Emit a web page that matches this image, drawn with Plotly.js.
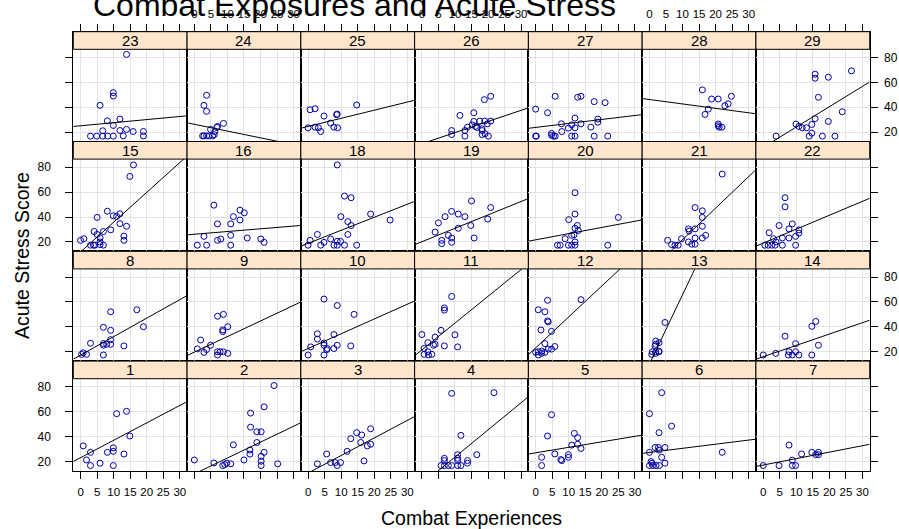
<!DOCTYPE html>
<html><head><meta charset="utf-8">
<script src="https://cdn.plot.ly/plotly-3.0.1.min.js"></script>
<style>html,body{margin:0;padding:0;background:#fff}#chart{width:899px;height:529px}</style>
</head><body><div id="chart"></div>
<script>
const panelLabels = ['1','2','3','4','5','6','7','8','9','10','11','12','13','14','15','16','18','19','20','21','22','23','24','25','26','27','28','29'];

const combatX = [
  [13.9,10.9,14.9,0.8,3,1.8,3,5.9,8.1,9.9,9.9,13.1,9.9],
  [24.1,21.1,17,17,18.9,20.2,11.8,18.9,16.8,16.8,21.1,15,20.2,20.2,20.2,25.2,0,5.9,8.6,9.2,9.8,11],
  [18.9,14.7,16.2,12.9,15.9,18.9,17.9,11.8,5.6,2.8,6.8,8.2,9.8,8.8,16.9],
  [9,11.8,16.6,6.8,6.8,10.8,10.8,10.8,13.8,13.8,5.8,6.8,8,9,10.8,11.8,21.8],
  [4.8,3.6,11.7,12.7,10.9,12.7,13.7,5.8,9.9,9.9,7.6,7.9,1.8,1.8],
  [3.7,0,6.7,2.9,1.7,2.7,4.7,2.9,0,3.7,0.5,0.8,0,1,2,3,4.7,22],
  [0,4.8,7.8,8.8,8.8,9.8,11.6,14.7,15.9,16.7,16.7],
  [9.1,17,19,6.9,9.1,3,6.9,6.9,7.9,9.1,9.1,13.1,0.8,1.8,0.3,6.9],
  [7,8.8,8.6,10.1,8.6,1.9,4.9,0.9,3.7,2.9,7,7.8,8.8,7,10.1],
  [4.8,8.8,13.9,2.8,2.8,7.8,4.8,4.8,0.8,5.8,5.6,8.8,7.8,12.9,0,4.8],
  [9,6.8,6.8,5.8,0,10,4,1.8,4,3.5,6.8,10.8,0.7,1.8,0.7,3,2],
  [3.6,13.7,0.8,2.8,3.6,3.8,1.6,4.8,2.8,5.8,4.8,3.8,0,0.8,1.8,2.8,0.8,1.8],
  [4.7,1.9,1.9,1.7,2.9,1.9,2.9,0.9,0.7,1.9,2.9],
  [15.9,14.7,6.6,9.8,16.7,0,3.8,7.8,7.6,8.8,9.8,10.8,14.7],
  [16,14.9,8.1,5,9.9,10.9,11.9,11.9,13.9,9.1,6.9,4.1,5,5.9,5.9,5.9,0,1,3,3.9,4.3,6.9,13.1,13.1],
  [5.9,7,11,11.8,13.8,15.1,13.8,2.9,7,8,11,0.9,3.7,11,16,20.1,21.1],
  [8.8,11,13,9.9,18.9,24.8,12,13,12,2.8,0.6,0,3.8,4.8,6.8,7.8,8.8,9.8,8.8,11,14.7],
  [4,5,7,9,11,13,15,14.8,11,8,9,9,6,6,15.8,20.8,19.9],
  [11.9,11.9,10,12.6,11.9,12.9,10.9,11.6,8.9,11.9,11.9,10.9,9.9,7.4,6.6,25,21.8],
  [22,13.8,16,16,11.8,12,13.8,16,17,16,13.8,11.8,12.8,13.8,9.7,5.5,6.7,7.7,8.7],
  [6.6,6.6,4.8,8.8,7.8,10.8,10.8,9.8,7.8,5.8,1.8,3.1,0.5,1.5,2.6,3.6,3.9,5.8,9.8],
  [13.9,9.9,9.9,5.9,8.1,11.9,9.9,6.7,11.9,13.9,15.9,19,19,12.9,3,4.9,6.7,8.2,9.9],
  [3.7,2.9,3.7,8.8,6.8,7,4.9,6.2,2.5,2.9,3.7,4.5,5.5,6],
  [0.6,2.1,4.8,14.7,8.6,8.8,6.8,7.8,8.9,0,2.1,3.1,3.8],
  [18.9,20.8,15.7,15.7,17.5,19,20.8,15.2,16.2,16.7,18.2,18.2,19.1,18.2,20.1,19.8,9,9,11.5,13,13,13.8],
  [0,0,0.2,3.6,5.9,4.8,4.8,5.9,5.4,7.9,7.8,9.9,10.9,11.9,11.9,10.9,11.9,12.7,13.7,13.7,17.7,21,18.8,18.8,16.7,17.7,21.8],
  [16,18.8,20.8,24.8,23.8,22.8,17.8,16.8,20.8,20.8,21.1,21.9],
  [3.9,9.9,10.8,11.8,13.1,14.7,15.7,14.7,13.9,15.7,15.7,16.7,19.7,19.7,17.9,21.7,23.9,26.7]
];

const stressY = [
  [60.3,58.4,40.5,32.6,27.4,21.3,16.8,18.7,27.4,28.2,31,26.1,16.8],
  [81,63.9,58.9,47.6,43.9,43.9,33.4,35.3,29.2,26,27.4,21.3,24.2,20.3,16.8,18.2,21.3,18.9,16.8,17.6,18.7,18.2],
  [46.3,43.2,41.3,38.4,35.3,33.9,32.6,28.2,26.1,18.2,19.2,19.2,19.2,16.8,20.5],
  [74.7,41,25.5,22.6,20.8,25.5,22.6,20.8,20.8,18.7,16.8,16.8,16.8,16.8,16.8,16.8,75.3],
  [57.6,40.5,42.6,39.2,33.2,33.9,30.5,26.1,25.5,23.4,21.6,20.8,23.4,16.8],
  [75.3,58.4,48.4,43.2,31.3,31.3,31.3,29.2,27.4,23.4,20,18.7,16.8,16.8,16.8,16.8,18.7,27.4],
  [16.8,16.8,33.2,21.1,16.8,16.8,26.1,27.4,25.5,27.4,25.5],
  [52.1,53.7,40.1,39.6,37.2,26.8,26.5,25.2,26,26,29.7,24.7,19.2,17.9,17.9,17.4],
  [48.5,50,37.5,40.1,36.2,29.4,25.2,22.3,21.8,19.5,20,20,20,17.4,18.7],
  [62.3,57.1,50,34.4,30.2,33.8,27,25.2,23.9,22.6,21.6,25.2,22.6,24.7,17.4,17.4],
  [64.4,55.2,53.4,37.2,33.8,33.6,31.7,27.3,26,25.2,24.7,23.9,22.6,20,17.9,17.9,17.4],
  [61.3,61.8,53.7,52.1,44.8,44,37.5,36.4,26.5,24.2,22.1,22.1,19.5,20,20.5,19.5,17.4,18.7],
  [43.5,28.6,26,24.7,27.3,20,20,20,17.9,18.7,20.5],
  [44.3,40.4,32.5,26.5,25.2,17.4,18.7,20,17.4,17.4,20,17.4,17.4],
  [81.8,72.6,44.7,39.7,41,40.5,42.6,34.7,32.6,29.7,28.4,28.4,26,23.4,20,17.9,21.3,22.6,17.4,17.4,17.4,17.4,24.7,21.3],
  [49.5,34.5,34.5,40.3,45.5,43.4,37.6,24.5,21.3,22.4,25.3,17.4,17.4,17.4,23.2,22.4,19.7],
  [81.8,56.8,55.5,40.3,42.4,37.6,36.3,33.2,26,26,21.3,17.4,17.4,19.7,22.4,17.4,20.5,20.5,17.4,17.4,17.4],
  [27.9,35.3,40.3,44.5,42.4,40.3,52.9,33.2,31,25.3,23.2,19.7,21.3,18.7,23.2,47.6,38.4],
  [59.5,42.4,37.9,33.2,31,29.2,25.3,25.8,22.6,20,17.4,17.4,17.4,17.4,17.4,39.7,17.4],
  [74.5,47.6,45,39.7,30.5,28.7,30.5,32.6,25.3,23.2,23.2,20,18.2,18.2,22.6,21.3,17.9,17.4,17.4],
  [55.5,48.2,33.2,34.5,30.5,29.7,27.1,24.5,23.2,23.2,27.4,22.6,17.4,17.4,17.4,17.4,20,17.4,17.4],
  [82.4,51.7,49,41.5,29.1,30.5,25.4,21.1,21.3,22.2,20.5,20.5,17,17,16.8,16.8,16.8,16.8,16.8],
  [49.6,41.5,36.7,27,23.8,24.6,22.2,20.5,17,17,17,17,17,18],
  [38,38.8,32.9,41.8,34,34.5,27.3,24,23.5,23.5,24,23.5,20.5],
  [46.1,48.8,35.6,28.6,28.9,28.9,28.9,25.9,24.6,23.8,22.7,21.3,18.7,18.1,16.8,26.7,21.3,18.1,33.4,21.3,16.8,24],
  [38.5,16.8,16.8,35.6,48.8,19,17.5,16.8,16.8,20.5,26.7,23.2,25.9,31.3,23.5,16.8,16.8,48,48.8,26.7,44.5,43.7,30.5,28,24,16.8,16.8],
  [53.9,46.6,46.6,48.8,42.8,41.2,38.5,34.2,26.5,25.1,24,24],
  [16.8,26.5,24.6,23.5,23.5,26.2,30.8,19.2,16.8,66.5,63.3,48,64.1,28.6,16.8,16.8,36.4,69.2]
];

const fitIntercept = [23.1,10.1,10.8,1.8,27,27.3,17.2,17.3,19.7,22.6,21.5,23.1,10.1,16,12,26.2,18.9,20.2,21.7,-3.5,19.1,25.1,26.3,24.6,10.7,23.8,46.2,7.8];
const fitSlope = [1.397,1.274,1.408,2.18,0.441,0.331,0.517,1.484,1.25,1.185,2.15,2.485,5.56,0.91,2.39,0.218,1.046,1.076,0.497,2.53,1.116,0.249,-0.544,0.652,0.894,0.32,-0.355,1.63];

const xTicks = [0,5,10,15,20,25,30];
const yTicks = [20,40,60,80];

const W = 899, H = 529;
const leftPx = 73.3, colW = 113.77, top0 = 31.7, rowH = 109.8, stripPx = 17.6;
const nCols = 7, nRows = 4;
const xRange = [-2.2, 32.2];
const yLow = 12.5, yHigh = 86.5;
const yTop = yHigh + (yHigh - yLow) * stripPx / (rowH - stripPx);
const panelFrac = (rowH - stripPx) / rowH;
const FONT = 'Liberation Sans, Arial, Helvetica, sans-serif';

const traces = [];
const layout = {
  width: W, height: H,
  margin: {l: 0, r: 0, t: 0, b: 0},
  paper_bgcolor: '#fff', plot_bgcolor: '#fff',
  showlegend: false,
  font: {family: FONT, color: '#000'},
  title: {text: 'Combat Exposures and Acute Stress', x: 93 / W, xanchor: 'left', y: 1 - 5 / H, yanchor: 'middle',
          font: {size: 32, family: FONT, color: '#000'}},
  shapes: [], annotations: []
};

for (let i = 0; i < panelLabels.length; i++) {
  const col = i % nCols;
  const rb = Math.floor(i / nCols);
  const r = nRows - 1 - rb;
  const sfx = i === 0 ? '' : String(i + 1);
  const xa = 'x' + sfx, ya = 'y' + sfx;
  const xdom = [(leftPx + col * colW) / W, (leftPx + (col + 1) * colW) / W];
  const ydom = [1 - (top0 + (r + 1) * rowH) / H, 1 - (top0 + r * rowH) / H];

  layout['xaxis' + sfx] = {
    domain: xdom, range: xRange, anchor: ya,
    tickmode: 'array', tickvals: xTicks, ticktext: xTicks.map(String),
    showgrid: true, gridcolor: '#E2E2E2', gridwidth: 1, zeroline: false,
    showline: true, linecolor: '#000', linewidth: 1, mirror: true,
    ticks: (r === 0 || r === nRows - 1) ? 'outside' : '',
    side: r === 0 ? 'top' : 'bottom',
    ticklen: 7, tickcolor: '#000', tickwidth: 1,
    showticklabels: (r === 0 && col % 2 === 1) || (r === nRows - 1 && col % 2 === 0),
    tickfont: {size: 11.5, family: FONT, color: '#000'},
    ticklabelstandoff: r === 0 ? 1 : 3,
    fixedrange: true
  };
  layout['yaxis' + sfx] = {
    domain: ydom, range: [yLow, yTop], anchor: xa,
    tickmode: 'array', tickvals: yTicks, ticktext: yTicks.map(String),
    showgrid: true, gridcolor: '#E2E2E2', gridwidth: 1, zeroline: false,
    showline: true, linecolor: '#000', linewidth: 1, mirror: true,
    ticks: (col === 0 || col === nCols - 1) ? 'outside' : '',
    side: col === nCols - 1 ? 'right' : 'left',
    ticklen: 7, tickcolor: '#000', tickwidth: 1,
    showticklabels: (col === 0 && (r === 1 || r === 3)) || (col === nCols - 1 && (r === 0 || r === 2)),
    tickfont: {size: 12, family: FONT, color: '#000'},
    ticklabelstandoff: col === 0 ? 12 : 4,
    fixedrange: true
  };

  traces.push({
    type: 'scatter', mode: 'markers', xaxis: xa, yaxis: ya,
    x: combatX[i], y: stressY[i],
    marker: {symbol: 'circle-open', size: 6, color: '#0000A8', line: {width: 1, color: '#0000A8'}},
    hoverinfo: 'skip'
  });
  traces.push({
    type: 'scatter', mode: 'lines', xaxis: xa, yaxis: ya,
    x: xRange, y: xRange.map(v => fitIntercept[i] + fitSlope[i] * v),
    line: {color: '#000', width: 1}, hoverinfo: 'skip'
  });

  layout.shapes.push({
    type: 'rect', xref: xa + ' domain', yref: ya + ' domain',
    x0: 0, x1: 1, y0: panelFrac, y1: 1,
    fillcolor: '#FFE5CC', line: {color: '#000', width: 1}, layer: 'above'
  });
  layout.annotations.push({
    xref: xa + ' domain', yref: ya + ' domain', x: 0.5, y: (panelFrac + 1) / 2,
    text: panelLabels[i], showarrow: false, xanchor: 'center', yanchor: 'middle',
    font: {size: 15, family: FONT, color: '#000'}
  });
}

layout.annotations.push({
  xref: 'paper', yref: 'paper', x: 471 / W, y: 1 - 518 / H,
  text: 'Combat Experiences', showarrow: false, xanchor: 'center', yanchor: 'middle',
  font: {size: 19.5, family: FONT, color: '#000'}
});
layout.annotations.push({
  xref: 'paper', yref: 'paper', x: 22 / W, y: 1 - 256 / H,
  text: 'Acute Stress Score', showarrow: false, textangle: -90, xanchor: 'center', yanchor: 'middle',
  font: {size: 19.5, family: FONT, color: '#000'}
});

Plotly.newPlot('chart', traces, layout, {staticPlot: true, displayModeBar: false});
</script>
</body></html>
